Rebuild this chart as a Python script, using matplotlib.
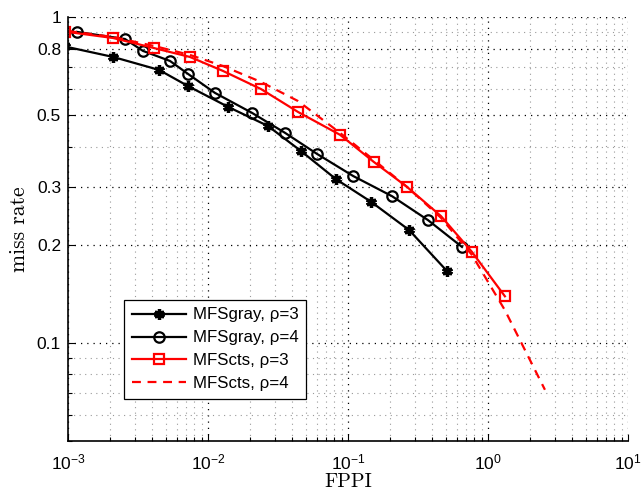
import matplotlib
matplotlib.use("Agg")
import matplotlib.pyplot as plt
from matplotlib.ticker import FixedLocator, NullFormatter, LogLocator

plt.rcParams["font.family"] = ["Liberation Sans", "DejaVu Sans"]
plt.rcParams["mathtext.fontset"] = "custom"
plt.rcParams["mathtext.rm"] = "Liberation Sans"
plt.rcParams["mathtext.it"] = "Liberation Sans:italic"
plt.rcParams["mathtext.bf"] = "Liberation Sans:bold"

# values (FPPI, miss rate)
gray3_fppi = [0.00095, 0.0021, 0.00447, 0.00719, 0.0139, 0.0268, 0.0461, 0.082, 0.146, 0.273, 0.51]
gray3_miss = [0.812, 0.754, 0.688, 0.614, 0.530, 0.463, 0.388, 0.318, 0.271, 0.222, 0.166]

gray4_fppi = [0.00116, 0.00255, 0.00343, 0.00535, 0.00719, 0.0112, 0.0206, 0.0355, 0.0601,
              0.109, 0.206, 0.373, 0.652]
gray4_miss = [0.90, 0.856, 0.787, 0.733, 0.669, 0.585, 0.508, 0.441, 0.380,
              0.325, 0.282, 0.238, 0.197]

cts3_fppi = [0.00095, 0.0021, 0.00411, 0.00743, 0.0128, 0.0239, 0.044, 0.0877, 0.153,
             0.264, 0.461, 0.769, 1.32]
cts3_miss = [0.902, 0.862, 0.803, 0.754, 0.683, 0.601, 0.511, 0.435, 0.359,
             0.301, 0.245, 0.190, 0.139]

cts4_fppi = [0.001, 0.0021, 0.00411, 0.00743, 0.0128, 0.0239, 0.044, 0.0877, 0.153,
             0.264, 0.461, 0.769, 1.32, 2.55]
cts4_miss = [0.906, 0.868, 0.815, 0.765, 0.707, 0.632, 0.552, 0.441, 0.364,
             0.301, 0.242, 0.186, 0.126, 0.0718]

yticks = [0.1, 0.2, 0.3, 0.5, 0.8, 1]
ytick_labels = ["0.1", "0.2", "0.3", "0.5", "0.8", "1"]
xticks = [1e-3, 1e-2, 1e-1, 1e0, 1e1]
xtick_labels = [r"$10^{-3}$", r"$10^{-2}$", r"$10^{-1}$", r"$10^{0}$", r"$10^{1}$"]

fig = plt.figure(figsize=(6.43, 4.97), dpi=100)
ax = fig.add_axes([0.1058, 0.1127, 0.8709, 0.8531])
ax.set_xscale("log")
ax.set_yscale("log")

lw = 1.6
ax.plot(gray3_fppi, gray3_miss, color="k", lw=lw, marker=(6, 2, 0), ms=7.5, mew=2.4,
        label="MFSgray, ρ=3")
ax.plot(gray4_fppi, gray4_miss, color="k", lw=lw, marker="o", ms=7.5, mew=1.6,
        mfc="none", label="MFSgray, ρ=4")
ax.plot(cts3_fppi, cts3_miss, color="#ff0000", lw=lw, marker="s", ms=6.5, mew=1.6,
        mfc="none", label="MFScts, ρ=3")
ax.plot(cts4_fppi, cts4_miss, color="#ff0000", lw=lw, ls=(0, (4, 3)),
        label="MFScts, ρ=4")

ax.set_xlim(1e-3, 1e1)
ax.set_ylim(0.05, 1)

ax.yaxis.set_major_locator(FixedLocator(yticks))
ax.set_yticklabels(ytick_labels)
ax.yaxis.set_minor_locator(LogLocator(base=10, subs=range(2, 10)))
ax.yaxis.set_minor_formatter(NullFormatter())
ax.xaxis.set_major_locator(FixedLocator(xticks))
ax.set_xticklabels(xtick_labels)
ax.xaxis.set_minor_locator(LogLocator(base=10, subs=range(2, 10)))
ax.xaxis.set_minor_formatter(NullFormatter())

ax.tick_params(which="both", direction="in", labelsize=12.5, width=0.8)
ax.tick_params(which="major", length=5)
ax.tick_params(which="minor", length=3)
ax.tick_params(axis="x", pad=8)
ax.tick_params(axis="y", pad=5)

ax.grid(which="minor", color="#999999", ls=(0, (1, 4)), lw=0.8)
ax.grid(which="major", color="k", ls=(0, (1, 4)), lw=0.9)
ax.set_axisbelow(True)

for side in ("top", "right"):
    ax.spines[side].set_visible(False)
for side in ("left", "bottom"):
    ax.spines[side].set_linewidth(1.2)

ax.set_xlabel("FPPI", family="cmr10", fontsize=14.5, labelpad=1)
ax.set_ylabel("miss rate", family="cmr10", fontsize=15.5, labelpad=6)

leg = ax.legend(loc="lower left", bbox_to_anchor=(0.1, 0.099), borderaxespad=0,
                fontsize=12.2, fancybox=False, framealpha=1, edgecolor="k",
                handlelength=3.2, handletextpad=0.4, labelspacing=0.47, borderpad=0.45)
leg.get_frame().set_linewidth(0.9)

fig.savefig("out.png", dpi=100)
